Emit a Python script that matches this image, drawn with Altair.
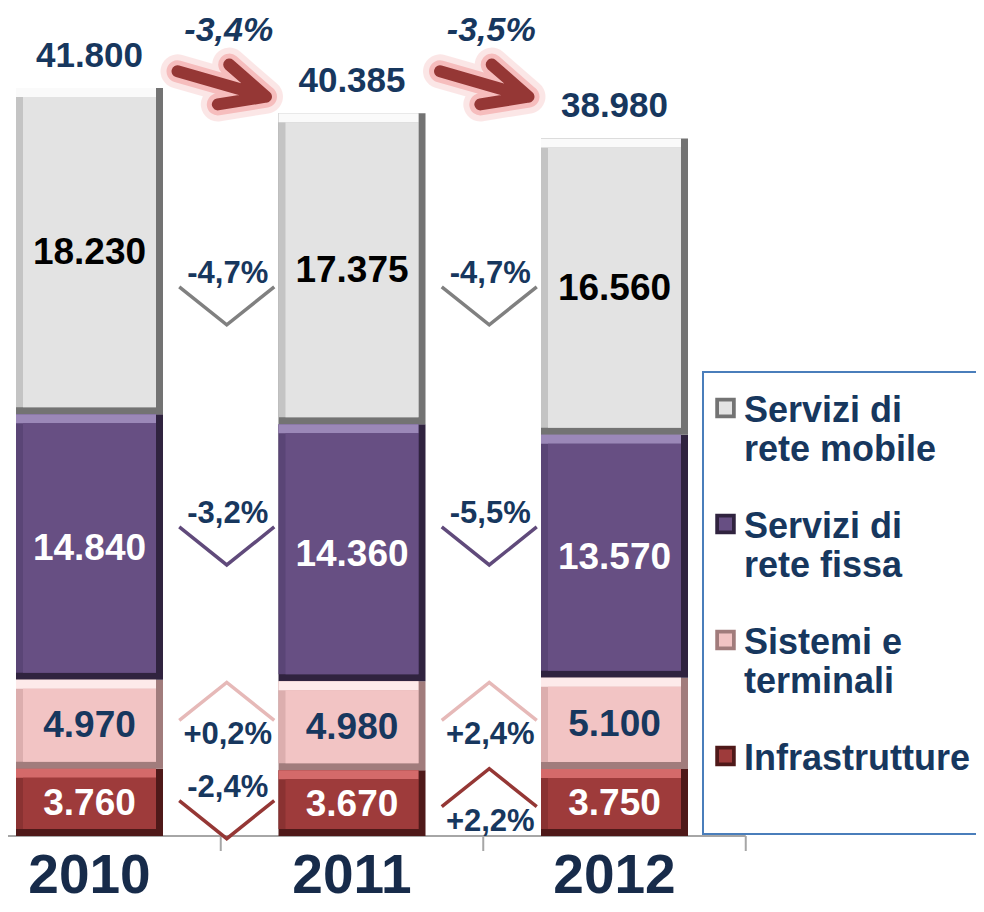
import altair as alt
import pandas as pd

# ---------------- data ----------------
years = ["2010", "2011", "2012"]
seg_names = ["Infrastrutture", "Sistemi e terminali",
             "Servizi di rete fissa", "Servizi di rete mobile"]   # bottom -> top
infrastrutture = [3760, 3670, 3750]
sistemi_terminali = [4970, 4980, 5100]
rete_fissa = [14840, 14360, 13570]
rete_mobile = [18230, 17375, 16560]
legend_labels = ["Servizi di|rete mobile", "Servizi di|rete fissa",
                 "Sistemi e|terminali", "Infrastrutture"]          # top -> bottom
legend_order = ["Servizi di rete mobile", "Servizi di rete fissa",
                "Sistemi e terminali", "Infrastrutture"]

series = [infrastrutture, sistemi_terminali, rete_fissa, rete_mobile]

# ---------------- styles ----------------
FONT = "Liberation Sans"
NAVY = "#17375e"
FACE = ["#9e3b3b", "#f2c4c4", "#674f83", "#e3e3e3"]
TOP = ["#d46a6a", "#fdeaea", "#9b88b8", "#fafafa"]
LEFT = ["#8a3232", "#dcaeae", "#5a4576", "#c4c4c4"]
DARK = ["#4f1919", "#a17c7c", "#30233f", "#737373"]
TXT = ["#ffffff", NAVY, "#ffffff", "#000000"]
CHEV = ["#953735", "#e6b9b8", "#604a7b", "#808080"]
NUDGE = [2, -6, -21, 22]     # px shift of the change-annotations per segment

# ---------------- layout ----------------
W, H = 968, 896
STEP = 262.5          # px between bars
X0_PX = 81.5          # plot x of first bar centre
BASE_PX = 828         # plot y of the baseline
K = 748 / 41800       # px per unit
HALF = 73.5 / STEP

xscale = alt.Scale(domain=[-X0_PX / STEP, (W - X0_PX) / STEP], nice=False, zero=False)
yscale = alt.Scale(domain=[-(H - BASE_PX) / K, BASE_PX / K], nice=False, zero=False)


def X(f):
    return alt.X(f, scale=xscale, axis=None)


def Y(f):
    return alt.Y(f, scale=yscale, axis=None)


def seg_color(rng):
    return alt.Color("seg:N", scale=alt.Scale(domain=seg_names, range=rng), legend=None)


def it_num(v):
    return f"{v:,}".replace(",", ".")


def it_pct(p):
    return f"{p:+.1f}%".replace(".", ",")


# bars table
rows = []
for i, y in enumerate(years):
    cum = 0
    for s, name in enumerate(seg_names):
        v = series[s][i]
        rows.append(dict(idx=i, year=y, seg=name, start=cum, end=cum + v,
                         mid=cum + v / 2, label=it_num(v),
                         x0=i - HALF, x1=i + HALF))
        cum += v
bars = pd.DataFrame(rows)

totals = [sum(series[s][i] for s in range(4)) for i in range(3)]
tot = pd.DataFrame(dict(idx=list(range(3)), year=years, total=totals,
                        label=[it_num(t) for t in totals], base=[0, 0, 0]))

# arrows between totals
arr = pd.DataFrame(dict(
    xc=[g + 0.5 for g in range(2)],
    yv=[max(totals)] * 2,
    label=[it_pct((totals[g + 1] / totals[g] - 1) * 100) for g in range(2)]))

# chevron annotations
crow = []
for s, name in enumerate(seg_names):
    mids = bars[bars.seg == name]["mid"].tolist()
    anchor = sum(mids) / len(mids) - NUDGE[s] / K
    for g in range(2):
        p = (series[s][g + 1] / series[s][g] - 1) * 100
        if p < 0:
            lab_v, chev_v, ang = anchor + 17 / K, anchor - 15 / K, 0
        else:
            lab_v, chev_v, ang = anchor - 17 / K, anchor + 17 / K, 180
        crow.append(dict(seg=name, xc=g + 0.5, lab=lab_v, chev=chev_v,
                         angle=ang, label=it_pct(p)))
chev = pd.DataFrame(crow)

# legend table
leg = pd.DataFrame(dict(seg=legend_order, text=legend_labels,
                        i=list(range(4))))

# ---------------- layers ----------------
axis_df = pd.DataFrame(dict(xa=[-X0_PX / STEP], xb=[2.5], y0=[0]))
ticks_df = pd.DataFrame(dict(xt=[0.5, 1.5, 2.5], y0=[0, 0, 0]))

axis_line = alt.Chart(axis_df).mark_rule(color="#a6a6a6", strokeWidth=2).encode(
    x=X("xa:Q"), x2="xb:Q", y=Y("y0:Q"))
axis_ticks = alt.Chart(ticks_df).mark_rule(color="#a6a6a6", strokeWidth=2, y2Offset=15).encode(
    x=X("xt:Q"), y=Y("y0:Q"), y2="y0:Q")

bb = alt.Chart(bars)
enc = dict(x=X("x0:Q"), x2="x1:Q", y=Y("end:Q"), y2="start:Q")
l_dark = bb.mark_rect().encode(color=seg_color(DARK), **enc)
l_left = bb.mark_rect(x2Offset=-7, y2Offset=-7).encode(color=seg_color(LEFT), **enc)
l_top = bb.mark_rect(x2Offset=-7, y2Offset=9).encode(
    x=X("x0:Q"), x2="x1:Q", y=Y("end:Q"), y2="end:Q", color=seg_color(TOP))
l_face = bb.mark_rect(xOffset=7, x2Offset=-7, yOffset=9, y2Offset=-7).encode(
    color=seg_color(FACE), **enc)
l_text = bb.mark_text(font=FONT, fontSize=37, fontWeight="bold", baseline="middle", dy=2).encode(
    x=X("idx:Q"), y=Y("mid:Q"), text="label:N", color=seg_color(TXT))

t_tot = alt.Chart(tot).mark_text(font=FONT, fontSize=35, fontWeight="bold", color=NAVY,
                                 baseline="middle", dy=-32).encode(
    x=X("idx:Q"), y=Y("total:Q"), text="label:N")
t_year = alt.Chart(tot).mark_text(font=FONT, fontSize=55, fontWeight="bold", color="#172b4a",
                                  baseline="alphabetic", dy=57).encode(
    x=X("idx:Q"), y=Y("base:Q"), text="year:N")

ARROW = "M -1 0 L 1 0 M 0.04 -0.45 L 1 0 L 0.04 0.45"
ASIZE = 92 * 92
ab = alt.Chart(arr)
common = dict(shape=ARROW, size=ASIZE, angle=16, filled=False, strokeCap="round",
              strokeJoin="round", xOffset=1, yOffset=-4)
glow1 = ab.mark_point(color="#f3a0a0", strokeWidth=34, opacity=0.25, **common).encode(
    x=X("xc:Q"), y=Y("yv:Q"))
glow2 = ab.mark_point(color="#f08c8c", strokeWidth=22, opacity=0.45, **common).encode(
    x=X("xc:Q"), y=Y("yv:Q"))
arrow = ab.mark_point(color="#953735", strokeWidth=12, opacity=1, **common).encode(
    x=X("xc:Q"), y=Y("yv:Q"))
arrow_lab = ab.mark_text(font=FONT, fontSize=34, fontWeight="bold", fontStyle="italic",
                         color=NAVY, baseline="middle", dx=8, dy=-57).encode(
    x=X("xc:Q"), y=Y("yv:Q"), text="label:N")

CHEVRON = "M -1 -0.4 L 0 0.4 L 1 -0.4"
cb = alt.Chart(chev)
chevrons = cb.mark_point(shape=CHEVRON, size=9025, filled=False, strokeWidth=3.5,
                         opacity=1, xOffset=6).encode(
    x=X("xc:Q"), y=Y("chev:Q"), angle=alt.Angle("angle:Q", scale=None),
    color=seg_color(CHEV))
chev_lab = cb.mark_text(font=FONT, fontSize=31, fontWeight="bold", color=NAVY,
                        baseline="middle", dx=7).encode(
    x=X("xc:Q"), y=Y("lab:Q"), text="label:N")

# legend drawn inside the plot
leg_box = alt.Chart(pd.DataFrame(dict(a=[0]))).mark_rect(
    fill="white", stroke="#4a7ebb", strokeWidth=2).encode(
    x=alt.value(695), x2=alt.value(990), y=alt.value(364), y2=alt.value(826))
lb = alt.Chart(leg).transform_calculate(
    sy="400 + 116 * datum.i", ty="414 + 116 * datum.i")
leg_sq_d = lb.mark_square(size=420, opacity=1).encode(
    x=alt.value(717.5), y=alt.Y("sy:Q", scale=None, axis=None), color=seg_color(DARK))
leg_sq_f = lb.mark_square(size=170, opacity=1).encode(
    x=alt.value(717.5), y=alt.Y("sy:Q", scale=None, axis=None), color=seg_color(FACE))
leg_txt = lb.mark_text(font=FONT, fontSize=36, fontWeight="bold", color=NAVY, align="left",
                       baseline="alphabetic", lineBreak="|", lineHeight=39).encode(
    x=alt.value(736), y=alt.Y("ty:Q", scale=None, axis=None), text="text:N")

chart = alt.layer(
    axis_line, axis_ticks, l_dark, l_left, l_top, l_face, l_text, t_tot, t_year,
    glow1, glow2, arrow, arrow_lab, chevrons, chev_lab,
    leg_box, leg_sq_d, leg_sq_f, leg_txt
).resolve_scale(
    x="independent", y="independent", color="independent"
).properties(
    width=W, height=H, padding=0, autosize=alt.AutoSizeParams(type="none")
).configure_view(stroke=None)

chart.save("out.html", embed_options={"renderer": "svg", "actions": False})
